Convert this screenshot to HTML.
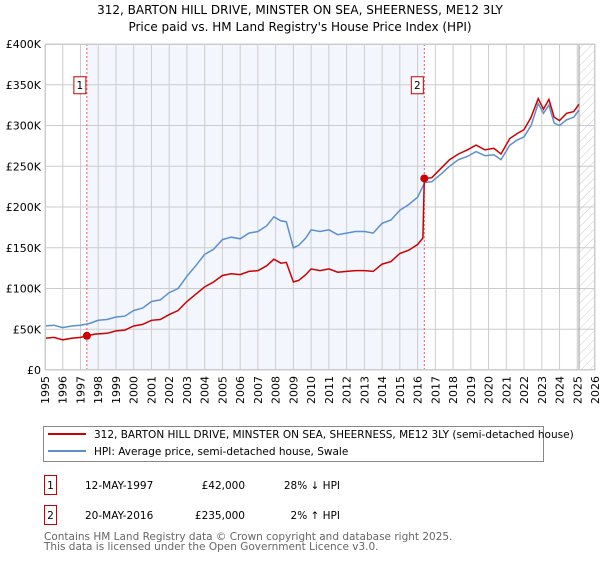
<!DOCTYPE html>
<html><head><meta charset="utf-8"><style>
body{margin:0;background:#fff;}
svg text{font-family:"DejaVu Sans","Liberation Sans",sans-serif;}
</style></head><body>
<svg id="c" width="600" height="560" xmlns="http://www.w3.org/2000/svg">
<defs><pattern id="hatch" width="6" height="6" patternUnits="userSpaceOnUse" patternTransform="rotate(45)"><line x1="0" y1="0" x2="0" y2="6" stroke="#ccc" stroke-width="1"/></pattern></defs>
<text x="300" y="14" text-anchor="middle" font-size="12">312, BARTON HILL DRIVE, MINSTER ON SEA, SHEERNESS, ME12 3LY</text>
<text x="300" y="31" text-anchor="middle" font-size="12">Price paid vs. HM Land Registry's House Price Index (HPI)</text>
<g id="plot"></g>
<g>
<rect x="43.5" y="426.5" width="500" height="35" fill="#fff" stroke="#888"/>
<line x1="48" y1="434" x2="86" y2="434" stroke="#cc0000" stroke-width="2"/>
<text x="94" y="438" font-size="10.5">312, BARTON HILL DRIVE, MINSTER ON SEA, SHEERNESS, ME12 3LY (semi-detached house)</text>
<line x1="48" y1="451" x2="86" y2="451" stroke="#5b8fd0" stroke-width="2"/>
<text x="94" y="455" font-size="10.5">HPI: Average price, semi-detached house, Swale</text>
</g>
<g font-size="10.5">
<rect x="44.5" y="475.5" width="12" height="19" fill="#fff" stroke="#cc0000"/>
<text x="50.5" y="489" text-anchor="middle">1</text>
<text x="85" y="489">12-MAY-1997</text>
<text x="245" y="489" text-anchor="end">£42,000</text>
<text x="340" y="489" text-anchor="end">28% ↓ HPI</text>
<rect x="44.5" y="505.5" width="12" height="19" fill="#fff" stroke="#cc0000"/>
<text x="50.5" y="519" text-anchor="middle">2</text>
<text x="85" y="519">20-MAY-2016</text>
<text x="245" y="519" text-anchor="end">£235,000</text>
<text x="340" y="519" text-anchor="end">2% ↑ HPI</text>
</g>
<text x="44" y="540" font-size="10.5" fill="#666">Contains HM Land Registry data © Crown copyright and database right 2025.</text>
<text x="44" y="550" font-size="10.5" fill="#666">This data is licensed under the Open Government Licence v3.0.</text>
</svg>
<script>
const hpiYears=[1995,1995.5,1996,1996.5,1997,1997.5,1998,1998.5,1999,1999.5,2000,2000.5,2001,2001.5,2002,2002.5,2003,2003.5,2004,2004.5,2005,2005.5,2006,2006.5,2007,2007.5,2007.9,2008.3,2008.6,2009.0,2009.3,2009.7,2010,2010.5,2011,2011.5,2012,2012.5,2013,2013.5,2014,2014.5,2015,2015.5,2016,2016.4,2016.8,2017.3,2017.8,2018.3,2018.8,2019.3,2019.8,2020.3,2020.7,2021.2,2021.6,2022,2022.4,2022.8,2023.1,2023.4,2023.7,2024,2024.4,2024.8,2025.1];
const hpiValues=[54,55,52,54,55,57,61,62,65,66,73,76,84,86,95,100,115,128,142,148,160,163,161,168,170,177,188,183,182,150,153,162,172,170,172,166,168,170,170,168,180,184,196,203,212,230,231,240,250,258,262,268,263,264,258,276,282,286,300,327,315,325,303,300,307,310,319];
const redYears=[1995,1995.5,1996,1996.5,1997,1997.36,1997.8,1998.5,1999,1999.5,2000,2000.5,2001,2001.5,2002,2002.5,2003,2003.5,2004,2004.5,2005,2005.5,2006,2006.5,2007,2007.5,2007.9,2008.3,2008.6,2009.0,2009.3,2009.7,2010,2010.5,2011,2011.5,2012,2012.5,2013,2013.5,2014,2014.5,2015,2015.5,2016,2016.3,2016.38,2016.8,2017.3,2017.8,2018.3,2018.8,2019.3,2019.8,2020.3,2020.7,2021.2,2021.6,2022,2022.4,2022.8,2023.1,2023.4,2023.7,2024,2024.4,2024.8,2025.1];
const redValues=[39,40,37,39,40,42,44,45,48,49,54,56,61,62,68,73,84,93,102,108,116,118,117,121,122,128,136,131,132,108,110,117,124,122,124,120,121,122,122,121,130,133,143,147,154,162,235,236,247,258,265,270,276,270,272,265,284,290,295,310,333,320,332,310,306,315,317,326];
const yTicks=[0,50,100,150,200,250,300,350,400];
const yTickLabels=["£0","£50K","£100K","£150K","£200K","£250K","£300K","£350K","£400K"];
const xTicks=[1995,1996,1997,1998,1999,2000,2001,2002,2003,2004,2005,2006,2007,2008,2009,2010,2011,2012,2013,2014,2015,2016,2017,2018,2019,2020,2021,2022,2023,2024,2025,2026];
const sales=[{t:1997.36,v:42,label:"1"},{t:2016.38,v:235,label:"2"}];
const L=45,R=595,T=44,B=370;
const x=t=>L+(t-1995)/(2026-1995)*(R-L);
const y=v=>B-v/400*(B-T);
const NS="http://www.w3.org/2000/svg";
const g=document.getElementById('plot');
function mk(tag,a,p){const e=document.createElementNS(NS,tag);for(const k in a)e.setAttribute(k,a[k]);(p||g).appendChild(e);return e;}
let e;
e=mk('rect',{x:x(sales[0].t),y:T,width:x(sales[1].t)-x(sales[0].t),height:B-T,fill:'#f3f6fd'});


e=mk('rect',{x:x(2025.1),y:T,width:R-x(2025.1),height:B-T,fill:'url(#hatch)'});


xTicks.forEach(t=>{e=mk('line',{x1:x(t),x2:x(t),y1:T,y2:B,stroke:'#ccc'});


e=mk('text',{x:0,y:0,'font-size':11,'text-anchor':'end',transform:`translate(${x(t)+4},${B+6}) rotate(-90)`});e.textContent=t;

});
yTicks.forEach((v,i)=>{e=mk('line',{x1:L,x2:R,y1:y(v),y2:y(v),stroke:'#ccc'});


e=mk('text',{x:L-4,y:y(v)+4,'font-size':11,'text-anchor':'end'});e.textContent=yTickLabels[i];

});
e=mk('line',{x1:x(2025.1),x2:x(2025.1),y1:T,y2:B,stroke:'#999'});


sales.forEach(s=>{e=mk('line',{x1:x(s.t),x2:x(s.t),y1:T,y2:B,stroke:'#e06060','stroke-dasharray':'2,2'});

});
const path=(xs,vs)=>xs.map((t,i)=>(i?'L':'M')+x(t).toFixed(1)+','+y(vs[i]).toFixed(1)).join('');
e=mk('path',{d:path(hpiYears,hpiValues),fill:'none',stroke:'#5b8fd0','stroke-width':1.5});


e=mk('path',{d:path(redYears,redValues),fill:'none',stroke:'#cc0000','stroke-width':1.5});


sales.forEach(s=>{e=mk('circle',{cx:x(s.t),cy:y(s.v),r:4,fill:'#cc0000'});


e=mk('rect',{x:x(s.t)-13,y:y(350)-8,width:12,height:17,fill:'#fff',stroke:'#cc0000'});


e=mk('text',{x:x(s.t)-7,y:y(350)+4,'font-size':10.5,'text-anchor':'middle'});e.textContent=s.label;

});
e=mk('rect',{x:L+.5,y:T+.5,width:R-L-1,height:B-T-1,fill:'none',stroke:'#ccc'});


</script>
</body></html>
